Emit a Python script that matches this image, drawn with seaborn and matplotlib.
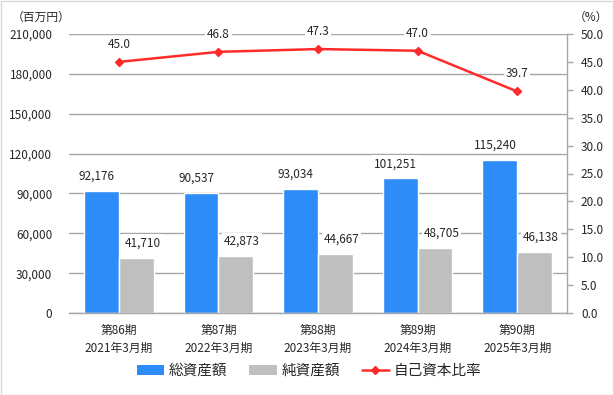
import matplotlib
matplotlib.use("Agg")
import matplotlib.pyplot as plt
import seaborn as sns
import pandas as pd
import numpy as np
from matplotlib.lines import Line2D
from matplotlib.patches import Patch

periods = ["第86期\n2021年3月期", "第87期\n2022年3月期", "第88期\n2023年3月期", "第89期\n2024年3月期", "第90期\n2025年3月期"]
total_assets = [92176, 90537, 93034, 101251, 115240]
net_assets = [41710, 42873, 44667, 48705, 46138]
equity_ratio = [45.0, 46.8, 47.3, 47.0, 39.7]
left_ticks = [0, 30000, 60000, 90000, 120000, 150000, 180000, 210000]
right_ticks = [0.0, 5.0, 10.0, 15.0, 20.0, 25.0, 30.0, 35.0, 40.0, 45.0, 50.0]
series_names = ["総資産額", "純資産額", "自己資本比率"]

sns.set_theme(style="white")
plt.rcParams['font.family'] = ['Noto Sans CJK JP', 'DejaVu Sans']

BLUE = "#2e8cf8"
GRAY = "#bfbfbf"
RED = "#ff2b2b"
GRID = "#a6a6a6"
FS = 8.5

df = pd.DataFrame({
    "period": periods * 2,
    "value": total_assets + net_assets,
    "series": [series_names[0]] * 5 + [series_names[1]] * 5,
})

fig = plt.figure(figsize=(6.14, 3.95), dpi=100)
ax = fig.add_axes([69/614, 1-313/395, (567-69)/614, (313-34)/395])
sns.barplot(data=df, x="period", y="value", hue="series", palette=[BLUE, GRAY],
            width=0.7, ax=ax, legend=False, saturation=1, zorder=2)

ax.set_ylim(0, 210000)
ax.set_yticks(left_ticks)
ax.set_yticklabels([f"{t:,}" for t in left_ticks], fontsize=FS)
ax.yaxis.grid(True, color=GRID, linewidth=1, zorder=0)
ax.set_axisbelow(True)
ax.set_xlabel("")
ax.set_ylabel("")
ax.tick_params(axis="x", labelsize=FS, length=0, pad=8)
ax.tick_params(axis="y", length=0, pad=12)
for lbl in ax.get_xticklabels():
    lbl.set_linespacing(1.5)
for s in ["left", "right", "top"]:
    ax.spines[s].set_visible(False)
ax.spines["bottom"].set_color(GRID)
ax.spines["bottom"].set_linewidth(1)
ax.set_xlim(-0.5, 4.5)

bbox = dict(boxstyle="square,pad=0.15", fc="white", ec="none")
x_shift = [-3.5, 4.5]
for k, cont in enumerate(ax.containers):
    for bar in cont:
        h = bar.get_height()
        ax.annotate(f"{int(round(h)):,}", (bar.get_x() + bar.get_width()/2, h),
                    xytext=(x_shift[k], 6), textcoords="offset points", ha="center", va="bottom",
                    fontsize=FS, bbox=bbox, zorder=3)

ax2 = ax.twinx()
ax2.plot(range(5), equity_ratio, color=RED, linewidth=1.8, marker="D", markersize=3.6)
ax2.set_ylim(0, 50)
ax2.set_yticks(right_ticks)
ax2.set_yticklabels([f"{t:.1f}" for t in right_ticks], fontsize=FS)
ax2.tick_params(axis="y", length=4, color=GRID, width=1, pad=6, direction="out", right=True)
for s in ["left", "top", "bottom"]:
    ax2.spines[s].set_visible(False)
ax2.spines["right"].set_color(GRID)
ax2.spines["right"].set_linewidth(1)
for i, v in enumerate(equity_ratio):
    ax2.annotate(f"{v:.1f}", (i, v), xytext=(0, 8), textcoords="offset points",
                 ha="center", va="bottom", fontsize=FS, bbox=bbox)

fig.text(12/614, 1-17/395, "（百万円）", fontsize=FS, va="center", ha="left")
fig.text(574/614, 1-17/395, "（%）", fontsize=FS, va="center", ha="left")

handles = [Patch(facecolor=BLUE, edgecolor="none"), Patch(facecolor=GRAY, edgecolor="none"),
           Line2D([0], [0], color=RED, linewidth=1.8, marker="D", markersize=3.6)]
fig.legend(handles, series_names, loc="center", bbox_to_anchor=(309/614, 1-371/395), ncol=3,
           frameon=False, fontsize=10.5, handlelength=1.9, handleheight=0.65, columnspacing=1.5,
           handletextpad=0.3)

fig.add_artist(plt.Rectangle((0.001, 0.001), 0.997, 0.997, transform=fig.transFigure,
                             fill=False, edgecolor="#d9d9d9", linewidth=1))

fig.savefig("out.png", dpi=100)
